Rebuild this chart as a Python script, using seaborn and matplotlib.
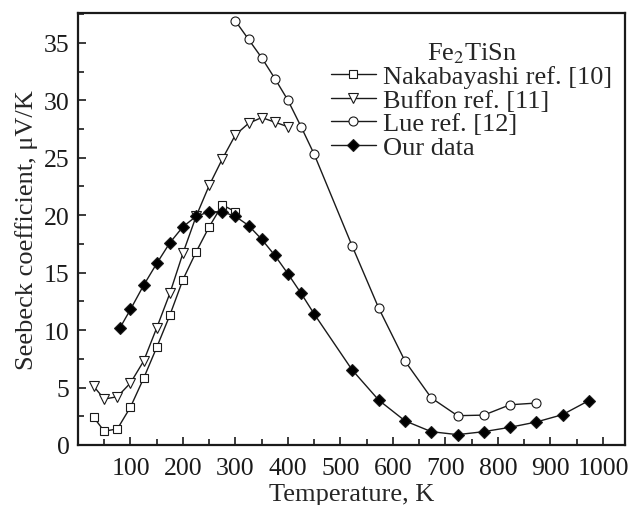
"""Seebeck coefficient of Fe2TiSn vs temperature: literature data and ours."""
import matplotlib
matplotlib.use("Agg")
import matplotlib.pyplot as plt
from matplotlib.ticker import MultipleLocator, FixedLocator
import pandas as pd
import seaborn as sns

# values
naka_T = [30, 50, 75, 100, 125, 150, 175, 200, 225, 250, 275, 300]
naka_S = [2.4, 1.2, 1.4, 3.3, 5.8, 8.5, 11.3, 14.4, 16.8, 19.0, 20.9, 20.3]

buffon_T = [30, 50, 75, 100, 125, 150, 175, 200, 225, 250, 275, 300, 325, 350, 375, 400]
buffon_S = [5.1, 4.0, 4.2, 5.4, 7.3, 10.2, 13.2, 16.7, 19.9, 22.6, 24.9, 27.0,
            28.0, 28.5, 28.1, 27.7]

lue_T = [300, 325, 350, 375, 400, 425, 450, 522, 573, 623, 673, 723, 773, 823, 873]
lue_S = [36.9, 35.3, 33.7, 31.9, 30.0, 27.7, 25.3, 17.35, 11.9, 7.3, 4.1, 2.55,
         2.6, 3.5, 3.65]

our_T = [80, 100, 125, 150, 175, 200, 225, 250, 275, 300, 325, 350, 375, 400, 425,
         450, 522, 573, 623, 673, 723, 773, 823, 873, 923, 973]
our_S = [10.2, 11.8, 13.9, 15.8, 17.6, 19.0, 19.9, 20.3, 20.3, 19.9, 19.1, 17.9,
         16.5, 14.9, 13.2, 11.4, 6.55, 3.9, 2.1, 1.16, 0.9, 1.16, 1.54, 2.0, 2.64, 3.86]

labels = ["Nakabayashi ref. [10]", "Buffon ref. [11]", "Lue ref. [12]", "Our data"]
x_ticks = [100, 200, 300, 400, 500, 600, 700, 800, 900, 1000]
y_ticks = [0, 5, 10, 15, 20, 25, 30, 35]

series = [
    (naka_T, naka_S, "s", "white", 6.0),
    (buffon_T, buffon_S, "v", "white", 7.5),
    (lue_T, lue_S, "o", "white", 6.5),
    (our_T, our_S, "D", "black", 6.5),
]

sns.set_theme(style="ticks")
plt.rcParams["font.family"] = ["Liberation Serif", "DejaVu Serif"]
plt.rcParams["mathtext.fontset"] = "stix"

fig = plt.figure(figsize=(6.29, 5.06), dpi=100)
ax = fig.add_axes([0.124, 0.1186, 0.8696, 0.8537])

for (T, S, mk, fc, ms), lab in zip(series, labels):
    df = pd.DataFrame({"T": T, "S": S})
    sns.lineplot(data=df, x="T", y="S", ax=ax, sort=False, estimator=None,
                 color="#1a1a1a", linewidth=1.0, marker=mk, markersize=ms,
                 markerfacecolor=fc, markeredgecolor="#1a1a1a",
                 markeredgewidth=0.8, label=lab)

ax.set_xlim(0, 1042)
ax.set_ylim(0, 37.6)
ax.xaxis.set_major_locator(FixedLocator(x_ticks))
ax.xaxis.set_minor_locator(MultipleLocator(50))
ax.yaxis.set_major_locator(FixedLocator(y_ticks))
ax.yaxis.set_minor_locator(MultipleLocator(2.5))
ax.tick_params(which="both", direction="in", top=False, right=False,
               width=1.2, colors="#1a1a1a", labelsize=18.5, pad=6)
ax.tick_params(axis="x", which="both", pad=9)
ax.tick_params(which="major", length=6)
ax.tick_params(which="minor", length=4)
for sp in ax.spines.values():
    sp.set_linewidth(1.6)
    sp.set_color("#1a1a1a")

ax.set_xlabel("Temperature, K", fontsize=19, labelpad=2.5)
ax.set_ylabel("Seebeck coefficient, μV/K", fontsize=19, labelpad=4)

h, l = ax.get_legend_handles_labels()
leg = ax.legend(h, l, title="Fe$_2$TiSn", loc="upper right",
                bbox_to_anchor=(0.987, 0.949), frameon=False, fontsize=19,
                title_fontsize=19, handlelength=1.7, handletextpad=0.3,
                labelspacing=0.0, borderpad=0.2, borderaxespad=0.0)

fig.savefig("out.png", dpi=100)
